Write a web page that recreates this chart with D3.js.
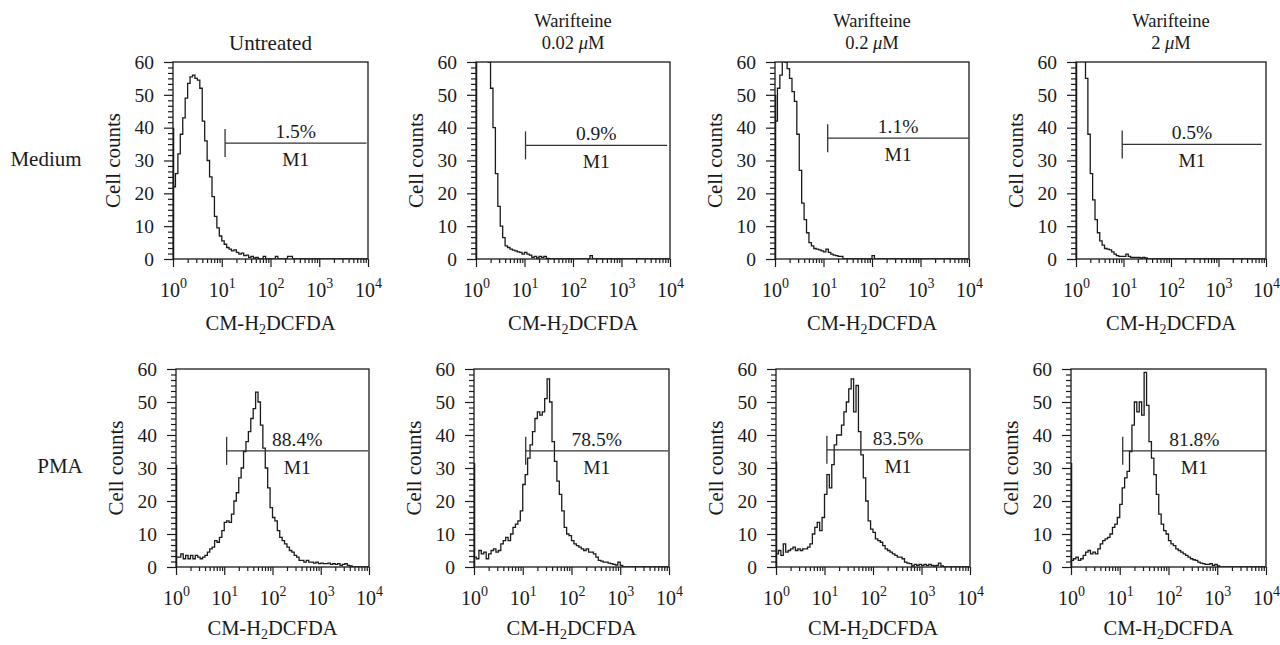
<!DOCTYPE html>
<html>
<head>
<meta charset="utf-8">
<script src="https://cdn.jsdelivr.net/npm/d3@7"></script>
<style>
  body { margin: 0; background: #fff; }
  svg { display: block; }
  text { font-family: "Liberation Serif", "Times New Roman", serif; fill: #1a1a1a; }
</style>
</head>
<body>
<svg id="chart" width="1280" height="645"></svg>
<script>
// ---- data ----
const rowLabels = ["Medium", "PMA"];
const colTitles = ["Untreated", "Warifteine", "Warifteine", "Warifteine"];
const colDoses = [null, "0.02", "0.2", "2"];
const xTickValues = [1, 10, 100, 1000, 10000];
const yTickValues = [0, 10, 20, 30, 40, 50, 60];
const channelStep = 0.05; // decades per histogram channel

// counts per channel, starting at 10^0
const medUntreated = [22, 26, 32, 38, 43, 49, 53.5, 55.5, 56, 55, 54.5, 52, 42, 36, 30, 25, 19, 13, 9.5, 7,
  5.5, 4.5, 3.5, 3, 2.5, 2.8, 2, 1.5, 1.8, 1, 1.2, 0.5, 0.8, 0.3, 0.5, 0, 0, 0.8, 0, 0,
  0, 0, 0.8, 0, 0, 0, 0, 0.8, 0.8, 0];
const medW002 = [62, 62, 62, 62, 62, 60, 52, 40, 26, 16, 10, 6.5, 4, 3.5, 3, 2.7, 2.5, 2.2, 2, 1.5,
  2, 1.5, 1.2, 0.5, 0.8, 0.3, 0.8, 0.5, 0.8, 0.2, 0, 0, 0, 0, 0, 0, 0, 0, 0, 0,
  0, 0, 0, 0, 0, 0, 0, 1, 0];
const medW02 = [42, 52, 56, 61, 60, 58, 55, 51, 48, 38, 27, 17, 12, 8, 5, 4, 3.2, 3, 2.8, 2.5,
  2.2, 3, 2, 1.5, 1.2, 1, 0.8, 0.8, 0, 0, 0, 0, 0, 0, 0, 0, 0, 0, 0, 0, 1, 0];
const medW2 = [62, 62, 62, 62, 55, 38, 26, 18, 12, 8, 5.5, 4.2, 3.2, 3, 2.8, 2.2, 1.5, 1, 0.8, 0.8,
  0.8, 1.5, 0.8, 0.5, 0.5, 0.5, 0.5, 0.3, 0.5, 0.3, 0];
const pmaUntreated = [3, 3, 4, 2.5, 3.5, 2.5, 3.5, 2.5, 3.5, 3, 2.5, 3, 3.5, 4.5, 5.5, 6, 8, 7.5, 9, 11,
  13.5, 14, 13.5, 16, 20, 22.5, 27, 30, 35, 38, 41, 45, 48, 53, 50, 43, 36, 30, 24, 18,
  15, 14, 11, 9, 8, 7, 6, 5, 4.5, 3.5, 3, 2, 2, 1.5, 2, 1.5, 1.5, 1.2, 1.5, 1,
  1.2, 1, 1, 1.2, 0.8, 1, 0.8, 1, 0.5, 0.8, 1, 0.5, 0.3, 0];
const pmaW002 = [3, 2.5, 5, 4, 4.5, 2.5, 4, 5, 5.5, 4.5, 5, 7, 8, 9, 8, 10, 12, 13, 14, 17,
  25, 28, 33, 37, 41, 45, 47, 46, 47, 51, 57, 50, 38, 32, 26, 22, 17, 12, 10, 9.5,
  8, 7, 6.5, 6, 5.5, 5, 5.5, 4.5, 4.5, 4, 3, 2, 1.8, 1.5, 1.5, 1.2, 1, 0.8, 0.6, 1.5,
  0.5, 0];
const pmaW02 = [4, 5, 3.5, 7, 4.5, 5, 5.5, 6, 5, 5.5, 5, 5.5, 5.5, 6, 7, 10, 12, 13.5, 11, 15,
  22, 28, 24, 31, 37, 40, 40, 43, 47, 50, 54, 57, 47, 55, 41, 34, 27, 20, 14, 11.5,
  10.5, 8.5, 8, 7.5, 6.5, 5.5, 5, 4.5, 4, 3.5, 3, 3, 2.5, 1.5, 1.2, 1, 0.3, 0.8, 0.5, 0.8,
  0.5, 0.8, 0.5, 0.8, 0.5, 0.3, 0.5, 1.2, 0.3, 0];
const pmaW2 = [2, 2.5, 3, 2, 2.5, 3.5, 4.5, 5, 4, 4.5, 4, 5.5, 7, 8, 8.5, 9, 10, 12, 13, 15,
  19, 24, 27, 29, 35, 43, 50, 47, 50, 46, 59, 49, 38, 33, 28, 22, 16, 13, 11, 10,
  8, 7, 6.5, 5.5, 5, 4.5, 4, 3.5, 3, 2.5, 2.2, 2, 1.5, 1.2, 1, 0.8, 0.8, 1, 0.5, 0.8,
  0.3, 0];

const histograms = [medUntreated, medW002, medW02, medW2, pmaUntreated, pmaW002, pmaW02, pmaW2];
// pile-up in the first channel (the thick line on the left edge)
const edgeCounts = [40, 50, 50, 60, 31, 31.5, 32, 31.5];

// M1 gate
const gateFrom = [11.7, 10.5, 12.2, 9.4, 11.2, 11.5, 11.2, 11.5];
const gateTo = [9300, 8700, 9800, 8100, 9500, 9500, 9600, 10000];
const gateCount = [35.3, 34.6, 36.8, 34.9, 35.2, 35.2, 35.5, 35.2];
const gatePercent = ["1.5%", "0.9%", "1.1%", "0.5%", "88.4%", "78.5%", "83.5%", "81.8%"];

// ---- layout ----
const frames = [
  { x: 173, y: 62, w: 195, h: 197 },
  { x: 476, y: 62, w: 194, h: 197 },
  { x: 775, y: 62, w: 194, h: 197 },
  { x: 1076, y: 62, w: 190, h: 197 },
  { x: 176, y: 369, w: 193, h: 198 },
  { x: 474, y: 369, w: 195, h: 198 },
  { x: 776, y: 369, w: 194, h: 198 },
  { x: 1071, y: 369, w: 195, h: 198 }
];
const rowLabelPos = [{ x: 46, y: 166 }, { x: 60, y: 473 }];
const xLabelOffset = [71, 68];
const INK = "#1a1a1a";

const svg = d3.select("#chart");
const defs = svg.append("defs");

// row labels
rowLabels.forEach((t, r) => {
  svg.append("text")
    .attr("x", rowLabelPos[r].x).attr("y", rowLabelPos[r].y)
    .attr("text-anchor", "middle").attr("font-size", 21)
    .text(t);
});

// column titles
colTitles.forEach((t, c) => {
  const f = frames[c];
  const cx = f.x + f.w / 2;
  if (colDoses[c] === null) {
    svg.append("text").attr("x", cx).attr("y", 50)
      .attr("text-anchor", "middle").attr("font-size", 21).text(t);
  } else {
    svg.append("text").attr("x", cx).attr("y", 27)
      .attr("text-anchor", "middle").attr("font-size", 18.5).text(t);
    const d = svg.append("text").attr("x", cx).attr("y", 49)
      .attr("text-anchor", "middle").attr("font-size", 18.5);
    d.append("tspan").text(colDoses[c] + " ");
    d.append("tspan").attr("font-style", "italic").text("\u03bc");
    d.append("tspan").text("M");
  }
});

function styleAxis(g) {
  g.select(".domain").remove();
  g.selectAll(".tick line").attr("stroke", INK).attr("stroke-width", 1.2);
}

frames.forEach((f, i) => {
  const row = i < 4 ? 0 : 1;
  const x = d3.scaleLog().domain([1, 10000]).range([f.x, f.x + f.w]);
  const y = d3.scaleLinear().domain([0, 60]).range([f.y + f.h, f.y]);
  const g = svg.append("g");

  defs.append("clipPath").attr("id", "clip" + i)
    .append("rect").attr("x", f.x).attr("y", f.y).attr("width", f.w).attr("height", f.h);

  // histogram
  const counts = histograms[i];
  const pts = [[1.03, 0], [1.03, edgeCounts[i]]];
  counts.forEach((c, k) => pts.push([k === 0 ? 1.03 : Math.pow(10, k * channelStep), c]));
  pts.push([Math.pow(10, counts.length * channelStep), 0]);
  pts.push([10000, 0]);

  const line = d3.line()
    .x(d => x(d[0]))
    .y(d => y(d[1]))
    .curve(d3.curveStepAfter);

  g.append("path")
    .attr("clip-path", `url(#clip${i})`)
    .attr("d", line(pts))
    .attr("fill", "none")
    .attr("stroke", INK)
    .attr("stroke-width", 1.3);

  // frame
  g.append("rect")
    .attr("x", f.x).attr("y", f.y).attr("width", f.w).attr("height", f.h)
    .attr("fill", "none").attr("stroke", INK).attr("stroke-width", 1.3);

  // y axis: majors + minors (6 per 10 counts)
  const yMinor = d3.range(0, 61, 10 / 6).filter(v => Math.abs(v / 10 - Math.round(v / 10)) > 1e-6);
  g.append("g")
    .attr("transform", `translate(${f.x},0)`)
    .call(d3.axisLeft(y).tickValues(yMinor).tickSize(5).tickFormat(""))
    .call(styleAxis);
  const gy = g.append("g")
    .attr("transform", `translate(${f.x},0)`)
    .call(d3.axisLeft(y).tickValues(yTickValues).tickSize(9).tickPadding(10))
    .call(styleAxis);
  gy.selectAll(".tick text")
    .attr("font-family", null)
    .attr("font-size", 19.5)
    .attr("fill", INK);

  // x axis: decades + minor 2..9
  const xMinor = [];
  for (let e = 0; e < 4; e++) for (let m = 2; m <= 9; m++) xMinor.push(m * Math.pow(10, e));
  g.append("g")
    .attr("transform", `translate(0,${f.y + f.h})`)
    .call(d3.axisBottom(x).tickValues(xMinor).tickSize(4).tickFormat(""))
    .call(styleAxis);
  const gx = g.append("g")
    .attr("transform", `translate(0,${f.y + f.h})`)
    .call(d3.axisBottom(x).tickValues(xTickValues).tickSize(8).tickFormat(""))
    .call(styleAxis);
  gx.selectAll(".tick").each(function (v) {
    const t = d3.select(this).select("text")
      .attr("font-family", null)
      .attr("font-size", 20)
      .attr("fill", INK)
      .attr("y", 38)
      .attr("dy", null);
    t.append("tspan").text("10");
    t.append("tspan").attr("font-size", 14).attr("dy", -9).text(Math.round(Math.log10(v)));
  });

  // axis titles
  g.append("text")
    .attr("transform", `translate(${f.x - 53},${f.y + f.h / 2}) rotate(-90)`)
    .attr("text-anchor", "middle")
    .attr("font-size", 21)
    .text("Cell counts");

  const xl = g.append("text")
    .attr("x", f.x + f.w / 2)
    .attr("y", f.y + f.h + xLabelOffset[row])
    .attr("text-anchor", "middle")
    .attr("font-size", 20.5);
  xl.append("tspan").text("CM-H");
  xl.append("tspan").attr("font-size", 14).attr("dy", 4).text("2");
  xl.append("tspan").attr("dy", -4).text("DCFDA");

  // M1 gate marker
  const gx0 = x(gateFrom[i]), gx1 = x(gateTo[i]), gyv = y(gateCount[i]);
  g.append("line")
    .attr("x1", gx0).attr("x2", gx1).attr("y1", gyv).attr("y2", gyv)
    .attr("stroke", "#333").attr("stroke-width", 1.3);
  g.append("line")
    .attr("x1", gx0).attr("x2", gx0).attr("y1", gyv - 14).attr("y2", gyv + 14)
    .attr("stroke", "#333").attr("stroke-width", 1.3);
  const mid = (gx0 + gx1) / 2;
  g.append("text").attr("x", mid).attr("y", gyv - 5)
    .attr("text-anchor", "middle").attr("font-size", 19.5).text(gatePercent[i]);
  g.append("text").attr("x", mid).attr("y", gyv + 23)
    .attr("text-anchor", "middle").attr("font-size", 19.5).text("M1");
});
</script>
</body>
</html>
